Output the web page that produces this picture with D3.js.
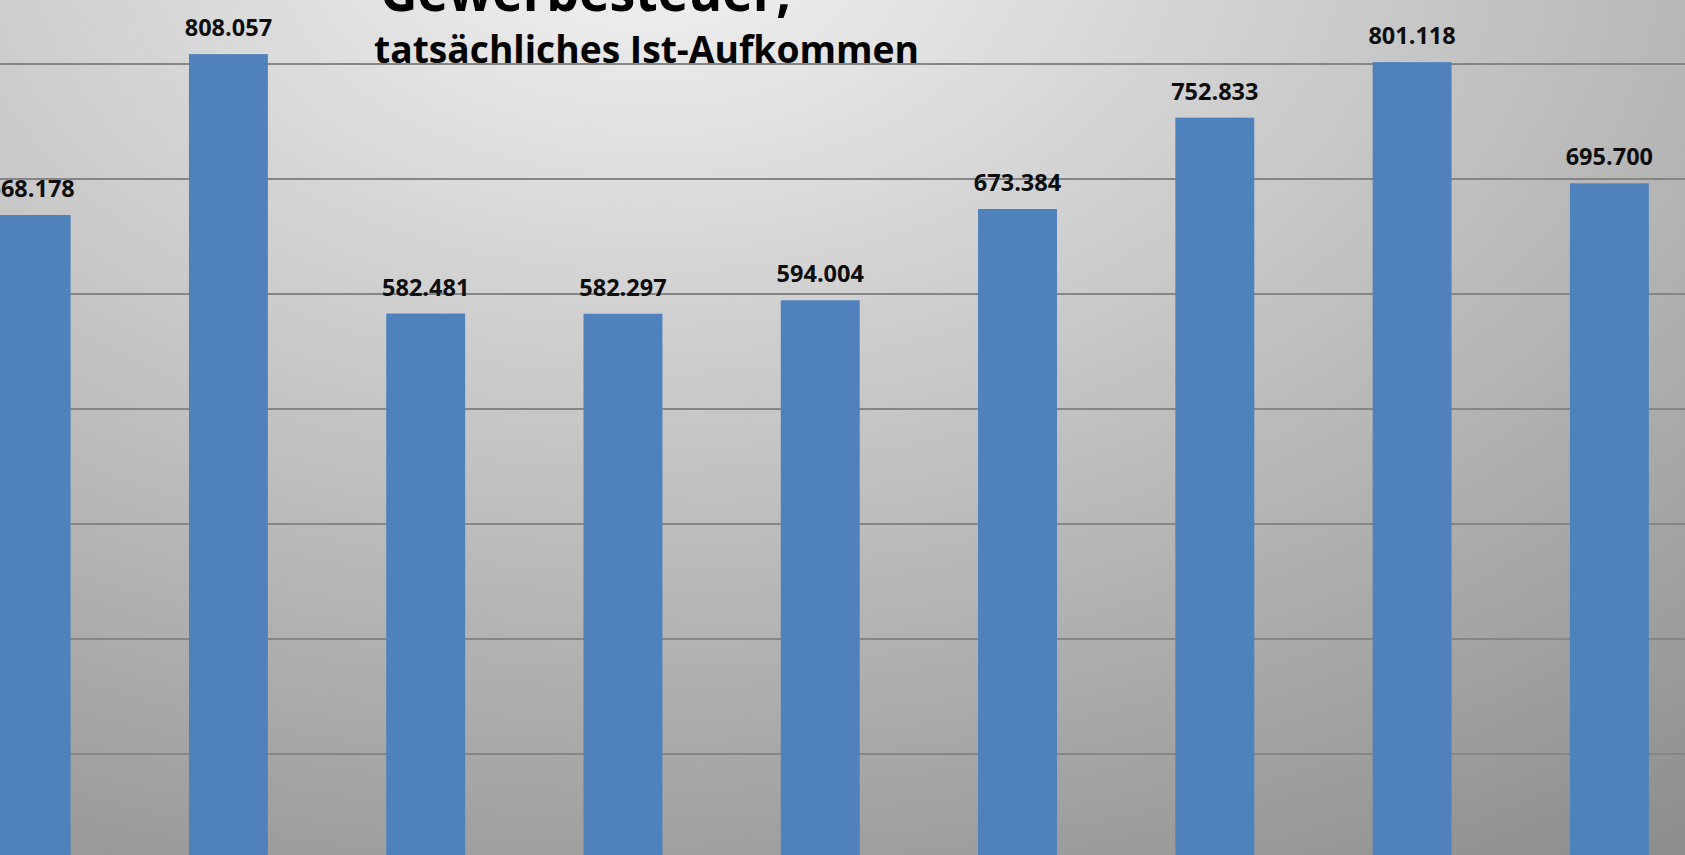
<!DOCTYPE html>
<html>
<head>
<meta charset="utf-8">
<script src="https://cdn.jsdelivr.net/npm/d3@7"></script>
<style>
  html, body { margin: 0; padding: 0; overflow: hidden; }
  svg { display: block; }
</style>
</head>
<body>
<svg id="chart" width="1685" height="855"></svg>
<script>
//--数据--
var titleLines = ["Gewerbesteuer,", "tatsächliches Ist-Aufkommen"];
var years = ["2010", "2011", "2012", "2013", "2014", "2015", "2016", "2017", "2018"];
var ertrag = [668178, 808057, 582481, 582297, 594004, 673384, 752833, 801118, 695700];
var gridTicks = [100000, 200000, 300000, 400000, 500000, 600000, 700000, 800000, 900000];

var W = 1685, H = 855;
var svg = d3.select("#chart");

//--背景渐变--
var defs = svg.append("defs");
var bg = defs.append("radialGradient")
    .attr("id", "bg")
    .attr("gradientUnits", "userSpaceOnUse")
    .attr("cx", 0).attr("cy", 0).attr("r", 1800)
    .attr("gradientTransform", "translate(650,-60) scale(1,0.625)");
bg.append("stop").attr("offset", 0).attr("stop-color", "#f3f3f3");
bg.append("stop").attr("offset", 1).attr("stop-color", "#8c8c8c");

svg.append("rect")
    .attr("width", W).attr("height", H)
    .attr("fill", "url(#bg)");

//--比例尺--
var x = d3.scaleBand()
    .domain(years)
    .range([-67.5, 1708])
    .paddingInner(0.6)
    .paddingOuter(0.3);

var y = d3.scaleLinear()
    .domain([0, 800000])
    .range([983.4, 63.4]);

//--网格线--
var grid = svg.append("g")
    .call(d3.axisLeft(y).tickValues(gridTicks).tickSize(-W).tickFormat(""));
grid.select(".domain").remove();
grid.selectAll(".tick line")
    .attr("stroke", "#868686")
    .attr("stroke-width", 2);

//--柱子--
svg.append("g").selectAll("rect")
    .data(ertrag)
    .join("rect")
    .attr("x", (d, i) => x(years[i]))
    .attr("width", x.bandwidth())
    .attr("y", d => y(d))
    .attr("height", d => y(0) - y(d))
    .attr("fill", "#4f81bd");

//--数值标签--
var de = d3.formatLocale({ decimal: ",", thousands: ".", grouping: [3], currency: ["", " €"] });
var fmt = de.format(",d");

svg.append("g").selectAll("text")
    .data(ertrag)
    .join("text")
    .attr("x", (d, i) => x(years[i]) + x.bandwidth() / 2)
    .attr("y", d => y(d) - 18)
    .attr("text-anchor", "middle")
    .attr("font-family", "'Open Sans', sans-serif")
    .attr("font-weight", "bold")
    .attr("font-size", 23.5)
    .attr("fill", "#0d0d0d")
    .text(d => fmt(d));

//--标题--
svg.append("text")
    .attr("x", 380).attr("y", 11)
    .attr("font-family", "'Open Sans', sans-serif")
    .attr("font-weight", "bold")
    .attr("font-size", 55)
    .attr("textLength", 411)
    .attr("lengthAdjust", "spacingAndGlyphs")
    .attr("fill", "#000")
    .text(titleLines[0]);

svg.append("text")
    .attr("x", 374).attr("y", 63)
    .attr("font-family", "'Open Sans', sans-serif")
    .attr("font-weight", "bold")
    .attr("font-size", 37)
    .attr("textLength", 545)
    .attr("lengthAdjust", "spacingAndGlyphs")
    .attr("fill", "#000")
    .text(titleLines[1]);
</script>
</body>
</html>
